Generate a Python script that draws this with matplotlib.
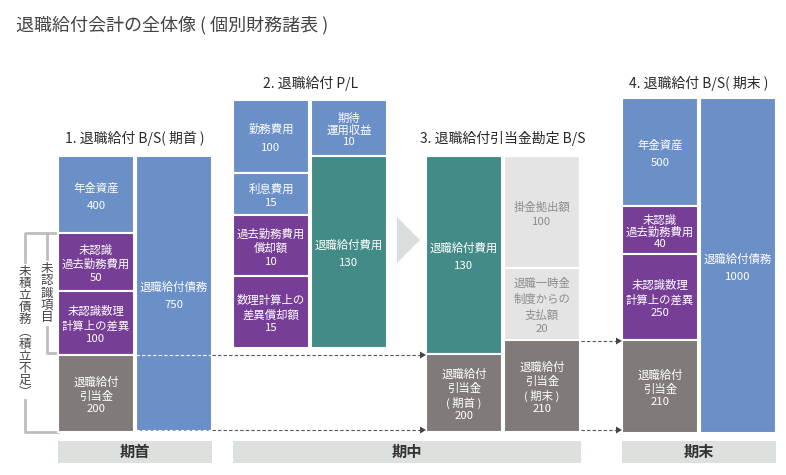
import matplotlib
matplotlib.use('Agg')
from matplotlib import pyplot as plt
from matplotlib.patches import Rectangle, Polygon

plt.rcParams['font.family'] = ['Noto Sans CJK JP', 'DejaVu Sans']

# ---- data ----
title = '退職給付会計の全体像 ( 個別財務諸表 )'
headings = ['1. 退職給付 B/S( 期首 )', '2. 退職給付 P/L',
            '3. 退職給付引当金勘定 B/S', '4. 退職給付 B/S( 期末 )']
periods = ['期首', '期中', '期末']

p1_left_labels = ['年金資産', '未認識\n過去勤務費用', '未認識数理\n計算上の差異', '退職給付\n引当金']
p1_left_values = [400, 50, 100, 200]
p1_right_labels = ['退職給付債務']
p1_right_values = [750]

p2_left_labels = ['勤務費用', '利息費用', '過去勤務費用\n償却額', '数理計算上の\n差異償却額']
p2_left_values = [100, 15, 10, 15]
p2_right_labels = ['期待\n運用収益', '退職給付費用']
p2_right_values = [10, 130]

p3_left_labels = ['退職給付費用', '退職給付\n引当金\n( 期首 )']
p3_left_values = [130, 200]
p3_right_labels = ['掛金拠出額', '退職一時金\n制度からの\n支払額', '退職給付\n引当金\n( 期末 )']
p3_right_values = [100, 20, 210]

p4_left_labels = ['年金資産', '未認識\n過去勤務費用', '未認識数理\n計算上の差異', '退職給付\n引当金']
p4_left_values = [500, 40, 250, 210]
p4_right_labels = ['退職給付債務']
p4_right_values = [1000]

bracket_outer = '未積立債務︵積立不足︶'
bracket_inner = '未認識項目'

# ---- styles / layout (pixels, y grows downwards) ----
BLUE = '#6b8fc7'
PURPLE = '#763e96'
TEAL = '#428b86'
GRAY = '#807b79'
LIGHT = '#e4e4e4'
BAND = '#dde1de'

COL_W = 76
# (x, y-edges, colours, linespacing per box, labels, values)
columns = [
    (58, [156, 233, 291, 355, 432], [BLUE, PURPLE, PURPLE, GRAY], [1.85, 1.3, 1.3, 1.3],
     p1_left_labels, p1_left_values),
    (136, [156, 432], [BLUE], [1.85], p1_right_labels, p1_right_values),
    (233, [100, 173, 215, 276, 348], [BLUE, BLUE, PURPLE, PURPLE], [1.95, 1.35, 1.35, 1.35],
     p2_left_labels, p2_left_values),
    (311, [100, 156, 348], [BLUE, TEAL], [1.1, 1.85], p2_right_labels, p2_right_values),
    (426, [156, 354, 432], [TEAL, GRAY], [1.85, 1.3], p3_left_labels, p3_left_values),
    (504, [156, 268, 340, 432], [LIGHT, LIGHT, GRAY], [1.5, 1.5, 1.3],
     p3_right_labels, p3_right_values),
    (622, [98, 206, 254, 340, 433], [BLUE, PURPLE, PURPLE, GRAY], [1.85, 1.15, 1.3, 1.3],
     p4_left_labels, p4_left_values),
    (700, [98, 433], [BLUE], [1.85], p4_right_labels, p4_right_values),
]

fig = plt.figure(figsize=(7.86, 4.75), dpi=100)
ax = fig.add_axes([0, 0, 1, 1])
ax.set_xlim(0, 786)
ax.set_ylim(475, 0)
ax.axis('off')

fig.text(16 / 786, 1 - 25 / 475, title, fontsize=13, color='#444444', va='center', ha='left')

for x, edges, colors, spacing, labels, values in columns:
    for i in range(len(labels)):
        top, bot = edges[i], edges[i + 1]
        ax.add_patch(Rectangle((x, top), COL_W, bot - top, facecolor=colors[i],
                               edgecolor='white', linewidth=1.5, zorder=2))
        tcol = '#8c8c8c' if colors[i] == LIGHT else 'white'
        ax.text(x + COL_W / 2, (top + bot) / 2 + 2, labels[i] + '\n' + str(values[i]),
                ha='center', va='center', color=tcol, fontsize=8.2,
                linespacing=spacing[i], zorder=4)

# headings
head_pos = [(135, 138), (311, 83), (503, 138), (699, 83)]
for (hx, hy), h in zip(head_pos, headings):
    ax.text(hx, hy, h, ha='center', va='center', fontsize=10, color='#2a2a2a')

# period bands
bands = [(58, 212), (233, 581), (622, 776)]
for (x0, x1), p in zip(bands, periods):
    ax.add_patch(Rectangle((x0, 441), x1 - x0, 22, facecolor=BAND, edgecolor='none'))
    ax.text((x0 + x1) / 2, 452, p, ha='center', va='center', fontsize=11,
            color='#333333', fontweight='bold')

# big arrow
ax.add_patch(Polygon([(397, 217), (397, 263), (420, 240)], closed=True,
                     facecolor='#dcdedd', edgecolor='none'))

# dashed flow lines
def flow(x0, x1, y):
    ax.plot([x0, x1 - 5], [y, y], ls=(0, (3, 2)), color='#555555', lw=0.8, zorder=3)
    ax.add_patch(Polygon([(x1 - 6, y - 3.5), (x1 - 6, y + 3.5), (x1, y)], closed=True,
                         facecolor='#444444', edgecolor='none', zorder=3))

for y in (355, 430):
    ax.plot([136, 212], [y, y], ls=(0, (3, 2)), color='white', lw=0.8, zorder=3)
    flow(212, 426, y)
flow(581, 622, 341)
flow(581, 622, 430)

# brackets
LC = '#bdbdbd'
ax.plot([58, 25, 25], [233, 233, 262], color=LC, lw=2, zorder=1)
ax.plot([25, 25, 58], [400, 432, 432], color=LC, lw=2, zorder=1)
ax.plot([47, 47], [233, 259], color=LC, lw=2, zorder=1)
ax.plot([47, 47, 58], [327, 353, 353], color=LC, lw=2, zorder=1)
ax.text(25, 332, '\n'.join(bracket_outer), ha='center', va='center', fontsize=9,
        color='#444444', linespacing=0.92)
ax.text(47, 293, '\n'.join(bracket_inner), ha='center', va='center', fontsize=9,
        color='#444444', linespacing=0.92)

fig.savefig('out.png', dpi=100)
